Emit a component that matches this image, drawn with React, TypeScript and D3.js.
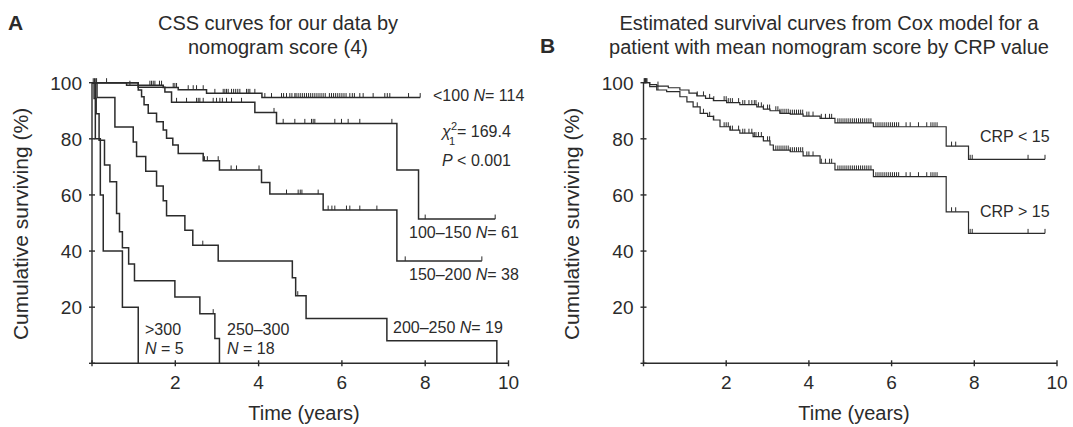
import React from "react";
import * as d3 from "d3";

// ---- panel A: Kaplan-Meier by nomogram score ----
const lt100T = [0, 0.83, 1.71, 2.07, 2.75, 4.08];
const lt100S = [100, 99.1, 98.3, 97.5, 96.2, 94.7];
const lt100End = 7.88;
const lt100Cens = [0.03, 0.06, 0.09, 0.11, 0.35, 0.91, 1.39, 1.43, 1.47, 1.51, 1.62, 1.67, 1.95, 1.99, 2.03, 2.31, 2.43, 2.51, 2.67, 2.95, 3.15, 3.19, 3.23, 3.27, 3.35, 3.4, 3.45, 3.5, 3.55, 3.71, 3.75, 3.79, 3.91, 4.15, 4.31, 4.55, 4.6, 4.67, 4.75, 4.8, 4.87, 4.9, 4.95, 5.0, 5.05, 5.1, 5.15, 5.2, 5.25, 5.3, 5.35, 5.4, 5.45, 5.5, 5.55, 5.6, 5.7, 5.75, 5.8, 5.85, 5.9, 5.95, 6.0, 6.05, 6.1, 6.19, 6.25, 6.3, 6.43, 6.51, 6.75, 7.03, 7.09, 7.15, 7.6, 7.88];

const s100T = [0, 1.11, 1.75, 1.91, 3.91, 4.43, 7.32, 7.84];
const s100S = [100, 98.4, 96.7, 93.0, 89.4, 85.5, 68.9, 51.4];
const s100End = 9.68;
const s100Cens = [2.03, 2.27, 2.51, 2.55, 2.59, 2.67, 2.91, 2.99, 3.07, 3.13, 3.23, 3.35, 3.59, 4.37, 4.59, 4.87, 5.11, 5.27, 5.31, 5.35, 5.83, 5.99, 6.15, 6.43, 7.2, 8.0, 9.68];

const s150T = [0, 1.11, 1.19, 1.25, 1.35, 1.55, 1.71, 1.79, 1.94, 2.07, 2.67, 3.06, 4.07, 4.27, 5.55, 7.32];
const s150S = [100, 97.4, 95.0, 92.1, 89.1, 86.1, 83.1, 80.2, 77.8, 74.8, 72.2, 68.9, 64.4, 60.3, 54.6, 36.5];
const s150End = 9.36;
const s150Cens = [2.7, 2.77, 3.03, 3.34, 3.47, 4.01, 4.67, 4.95, 5.0, 5.04, 5.43, 5.67, 5.76, 5.83, 6.11, 6.19, 6.43, 6.84, 7.52, 9.36];

const s200T = [0, 0.12, 0.55, 0.99, 1.07, 1.29, 1.55, 1.71, 1.79, 2.23, 2.42, 3.03, 4.81, 4.89, 5.14, 7.08, 9.72];
const s200S = [100, 94.7, 84.2, 78.9, 73.7, 68.4, 63.2, 57.9, 52.6, 47.4, 42.1, 36.5, 30.5, 24.1, 16.0, 8.0, 0];
const s200End = 9.72;
const s200Cens = [2.66, 4.94];

const s250T = [0, 0.05, 0.1, 0.17, 0.3, 0.43, 0.59, 0.66, 0.73, 0.88, 1.02, 1.99, 2.59, 2.95, 3.06];
const s250S = [100, 94.4, 88.9, 79.5, 70.7, 64.7, 53.4, 46.9, 41.2, 35.4, 29.4, 23.6, 17.7, 8.8, 0];
const s250End = 3.06;
const s250Cens = [2.91];

const s300T = [0, 0.08, 0.2, 0.27, 0.73, 1.11];
const s300S = [100, 80, 60, 40, 20, 0];
const s300End = 1.11;
const s300Cens: number[] = [];

// ---- panel B: Cox model curves by CRP ----
const crpLoT = [0, 0.15, 0.32, 0.6, 0.88, 1.1, 1.29, 1.5, 1.69, 2.01, 2.33, 2.74, 2.9, 3.06, 3.3, 3.55, 3.86, 4.27, 4.63, 5.56, 7.32, 7.86];
const crpLoS = [100, 99.3, 98.8, 98.2, 97.4, 96.3, 95.3, 94.4, 93.6, 92.9, 92.2, 91.4, 90.6, 90.0, 89.1, 88.8, 88.1, 87.3, 85.7, 84.3, 77.4, 72.7];
const crpHiT = [0, 0.15, 0.32, 0.56, 0.88, 1.05, 1.2, 1.37, 1.55, 1.69, 1.85, 2.09, 2.33, 2.65, 2.9, 3.06, 3.14, 3.55, 3.86, 4.27, 4.63, 5.56, 7.32, 7.86];
const crpHiS = [100, 98.6, 97.4, 96.8, 95.0, 93.2, 91.4, 89.1, 88.0, 86.7, 84.3, 83.1, 82.0, 80.8, 79.3, 77.8, 76.0, 75.4, 73.9, 71.3, 68.9, 66.5, 54.0, 46.3];
const crpEnd = 9.71;
const crpCens = [0.02, 0.05, 0.08, 0.35, 1.3, 1.45, 1.6, 1.7, 1.95, 2.0, 2.05, 2.1, 2.15, 2.3, 2.4, 2.45, 2.55, 2.62, 2.68, 2.72, 2.78, 2.85, 2.9, 3.0, 3.05, 3.2, 3.25, 3.3, 3.35, 3.4, 3.45, 3.5, 3.55, 3.6, 3.65, 3.7, 3.75, 3.8, 3.85, 3.95, 4.0, 4.1, 4.3, 4.4, 4.5, 4.55, 4.7, 4.75, 4.8, 4.85, 4.9, 4.95, 5.0, 5.05, 5.1, 5.15, 5.2, 5.25, 5.3, 5.35, 5.4, 5.45, 5.5, 5.62, 5.67, 5.72, 5.77, 5.82, 5.87, 5.92, 5.97, 6.02, 6.07, 6.12, 6.17, 6.35, 6.45, 6.65, 6.85, 6.95, 7.0, 7.05, 7.1, 7.45, 7.55, 7.9, 7.95, 9.3, 9.71];

const xTicks = [0, 2, 4, 6, 8, 10];
const yTicks = [0, 20, 40, 60, 80, 100];

const FONT = "'Liberation Sans', Arial, Helvetica, sans-serif";
const INK = "#2b2b2b";

type Curve = { t: number[]; s: number[]; end: number; cens: number[] };

function levelAt(c: Curve, time: number) {
  let v = c.s[0];
  for (let i = 0; i < c.t.length; i++) if (c.t[i] <= time) v = c.s[i];
  return v;
}

function KM({ c, x, y, width }: { c: Curve; x: d3.ScaleLinear<number, number>; y: d3.ScaleLinear<number, number>; width: number }) {
  const pts: [number, number][] = c.t.map((t, i) => [t, c.s[i]]);
  if (c.end > c.t[c.t.length - 1]) pts.push([c.end, c.s[c.s.length - 1]]);
  const line = d3
    .line<[number, number]>()
    .x((d) => x(d[0]))
    .y((d) => y(d[1]))
    .curve(d3.curveStepAfter);
  return (
    <g>
      <path d={line(pts) || ""} fill="none" stroke={INK} strokeWidth={width} />
      {c.cens.map((t, i) => {
        const yy = y(levelAt(c, t));
        return <line key={i} x1={x(t)} x2={x(t)} y1={yy} y2={yy - 4.5} stroke={INK} strokeWidth={1} />;
      })}
    </g>
  );
}

function Axes({ x, y }: { x: d3.ScaleLinear<number, number>; y: d3.ScaleLinear<number, number> }) {
  const [x0, x1] = x.range();
  const [y0, y1] = y.range();
  return (
    <g stroke={INK} strokeWidth={1.4}>
      <line x1={x0} x2={x1} y1={y0} y2={y0} />
      <line x1={x0} x2={x0} y1={y0} y2={y1} />
      {xTicks.map((t) => (
        <g key={"x" + t}>
          <line x1={x(t)} x2={x(t)} y1={y0 - 3} y2={y0 + 3} />
          {t > 0 && (
            <text x={x(t)} y={y0 + 26} textAnchor="middle" stroke="none" fill={INK} fontSize={19}>
              {t}
            </text>
          )}
        </g>
      ))}
      {yTicks.map((t) => (
        <g key={"y" + t}>
          <line x1={x0 - 3} x2={x0 + 3} y1={y(t)} y2={y(t)} />
          {t > 0 && (
            <text x={x0 - 10} y={y(t) + 7} textAnchor="end" stroke="none" fill={INK} fontSize={19}>
              {t}
            </text>
          )}
        </g>
      ))}
    </g>
  );
}

export default function App() {
  const yA = d3.scaleLinear().domain([0, 100]).range([363.3, 82.7]);
  const xA = d3.scaleLinear().domain([0, 10]).range([92, 508.5]);
  const xB = d3.scaleLinear().domain([0, 10]).range([643.5, 1057]);

  const curvesA: Curve[] = [
    { t: lt100T, s: lt100S, end: lt100End, cens: lt100Cens },
    { t: s100T, s: s100S, end: s100End, cens: s100Cens },
    { t: s150T, s: s150S, end: s150End, cens: s150Cens },
    { t: s200T, s: s200S, end: s200End, cens: s200Cens },
    { t: s250T, s: s250S, end: s250End, cens: s250Cens },
    { t: s300T, s: s300S, end: s300End, cens: s300Cens },
  ];
  const curvesB: Curve[] = [
    { t: crpLoT, s: crpLoS, end: crpEnd, cens: crpCens },
    { t: crpHiT, s: crpHiS, end: crpEnd, cens: crpCens },
  ];

  const it = (s: string) => <tspan fontStyle="italic">{s}</tspan>;

  return (
    <svg width={1073} height={427} style={{ position: "absolute", left: 0, top: 0, background: "#fff" }} fontFamily={FONT}>
      <rect width={1073} height={427} fill="#fff" />
      {/* panel A */}
      <text x={8} y={30} fontSize={21} fontWeight="bold" fill={INK}>A</text>
      <text x={278} y={30} fontSize={20} textAnchor="middle" fill={INK}>CSS curves for our data by</text>
      <text x={278} y={54} fontSize={20} textAnchor="middle" fill={INK}>nomogram score (4)</text>
      <Axes x={xA} y={yA} />
      {curvesA.map((c, i) => (
        <KM key={i} c={c} x={xA} y={yA} width={1.5} />
      ))}
      <text transform="translate(28,224) rotate(-90)" textAnchor="middle" fontSize={21} fill={INK}>Cumulative surviving (%)</text>
      <text x={304} y={420} textAnchor="middle" fontSize={20} fill={INK}>Time (years)</text>
      <g fontSize={16} fill={INK}>
        <text x={433} y={101}>&lt;100 {it("N")}= 114</text>
        <text x={442} y={137}>
          {it("χ")}
        </text>
        <text x={451} y={130} fontSize={11}>2</text>
        <text x={449} y={145} fontSize={11}>1</text>
        <text x={457} y={137}>= 169.4</text>
        <text x={442} y={166}>{it("P")} &lt; 0.001</text>
        <text x={409} y={238}>100–150 {it("N")}= 61</text>
        <text x={409} y={280}>150–200 {it("N")}= 38</text>
        <text x={393} y={333}>200–250 {it("N")}= 19</text>
        <text x={227} y={335}>250–300</text>
        <text x={227} y={354}>{it("N")} = 18</text>
        <text x={145} y={335}>&gt;300</text>
        <text x={145} y={354}>{it("N")} = 5</text>
      </g>

      {/* panel B */}
      <text x={540} y={53} fontSize={21} fontWeight="bold" fill={INK}>B</text>
      <text x={829} y={30} fontSize={20} textAnchor="middle" fill={INK}>Estimated survival curves from Cox model for a</text>
      <text x={829} y={54} fontSize={20} textAnchor="middle" fill={INK}>patient with mean nomogram score by CRP value</text>
      <Axes x={xB} y={yA} />
      {curvesB.map((c, i) => (
        <KM key={i} c={c} x={xB} y={yA} width={1.2} />
      ))}
      <text transform="translate(579,224) rotate(-90)" textAnchor="middle" fontSize={21} fill={INK}>Cumulative surviving (%)</text>
      <text x={854} y={420} textAnchor="middle" fontSize={20} fill={INK}>Time (years)</text>
      <g fontSize={16} fill={INK}>
        <text x={980} y={142}>CRP &lt; 15</text>
        <text x={980} y={217}>CRP &gt; 15</text>
      </g>
    </svg>
  );
}
